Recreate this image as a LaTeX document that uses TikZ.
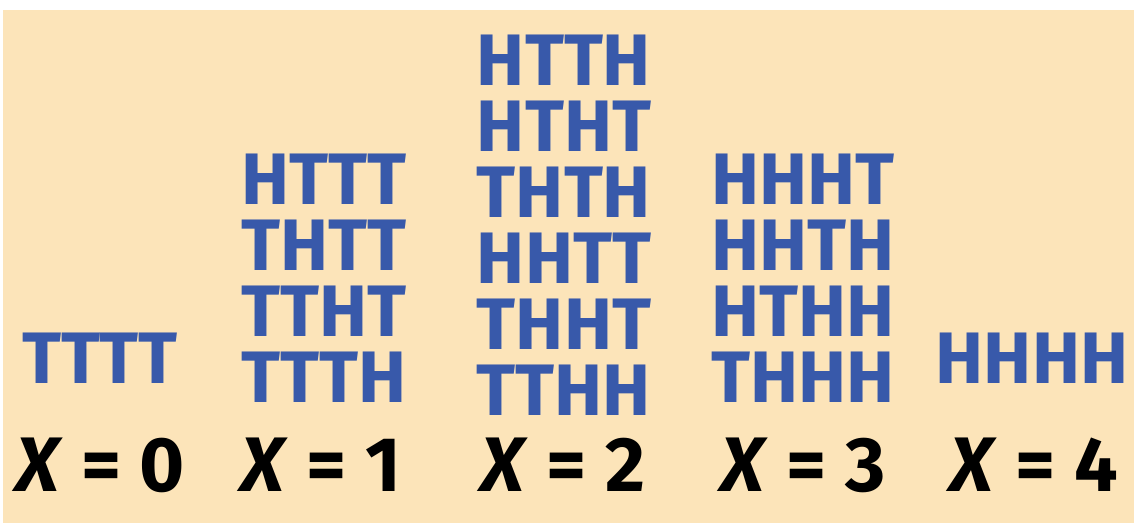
\documentclass[tikz,border=0pt]{standalone}
\usepackage{fontspec}
\setmainfont{Fira Sans}
\newfontfamily\coinfont[FakeStretch=0.99]{Fira Sans}
\definecolor{paper}{HTML}{FCE4B9}
\definecolor{coinblue}{HTML}{3859AA}

\begin{document}
\begin{tikzpicture}[x=0.02cm, y=-0.02cm,
    outcome/.style={text=coinblue, inner sep=0pt,
      font=\coinfont\bfseries\fontsize{41.5}{41.5}\selectfont},
    value/.style={inner sep=0pt, font=\bfseries\fontsize{44}{44}\selectfont}]
  \useasboundingbox (0,0) rectangle (1134,523);
  \fill[paper] (3,10) rectangle (1134,523);

  % Outcomes, one column for each value of X
  \node[outcome] (c0r1) at (100,358) {TTTT};
  \foreach \s [count=\i] in {HTTT,THTT,TTHT,TTTH}
    \node[outcome] (c1r\i) at (324,{113+66*\i}) {\s};
  \foreach \s [count=\i] in {HTTH,HTHT,THTH,HHTT,THHT,TTHH}
    \node[outcome] (c2r\i) at (564,{-6+66*\i}) {\s};
  \foreach \s [count=\i] in {HHHT,HHTH,HTHH,THHH}
    \node[outcome] (c3r\i) at (803,{113+66*\i}) {\s};
  \node[outcome] (c4r1) at (1032,358) {HHHH};

  % Values of X
  \foreach \x/\v in {100/0,321/1,563/2,803/3,1034/4}
    \node[value] (x\v) at (\x,465) {\textit{X} = \v};
\end{tikzpicture}
\end{document}
